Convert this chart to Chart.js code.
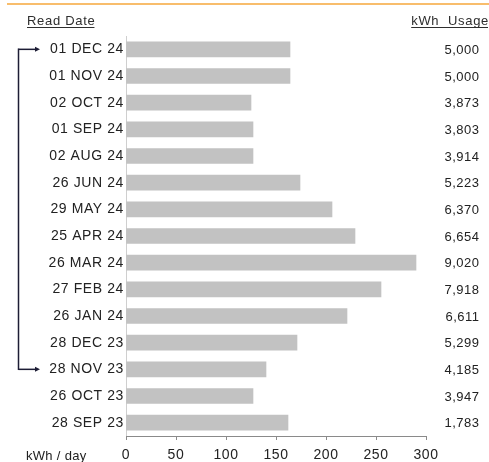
<!DOCTYPE html>
<html>
<head>
<meta charset="utf-8">
<script src="https://cdn.jsdelivr.net/npm/chart.js@4/dist/chart.umd.min.js"></script>
<style>
  html, body { margin: 0; padding: 0; background: #ffffff; }
  #wrap { width: 489px; height: 462px; }
</style>
</head>
<body>
<div id="wrap"><canvas id="c" width="489" height="462"></canvas></div>
<script>
const categories = ['01 DEC 24','01 NOV 24','02 OCT 24','01 SEP 24','02 AUG 24','26 JUN 24','29 MAY 24','25 APR 24','26 MAR 24','27 FEB 24','26 JAN 24','28 DEC 23','28 NOV 23','26 OCT 23','28 SEP 23'];
const kwhPerDay = [164,164,125,127,127,174,206,229,290,255,221,171,140,127,162];
const kwhUsage = [5000,5000,3873,3803,3914,5223,6370,6654,9020,7918,6611,5299,4185,3947,1783];
const xTicks = [0,50,100,150,200,250,300];
const arrowFrom = '28 NOV 23';
const arrowTo = '01 DEC 24';
const leftHeader = 'Read Date';
const rightHeader = 'kWh  Usage';
const xAxisLabel = 'kWh / day';

const FONT = "'Liberation Sans', Arial, sans-serif";

const decorPlugin = {
  id: 'decor',
  beforeDraw(chart) {
    chart.ctx.letterSpacing = '0.6px';
  },
  afterDraw(chart) {
    const ctx = chart.ctx;
    const yScale = chart.scales.y;
    ctx.save();
    ctx.letterSpacing = '0px';
    // top orange rule
    ctx.strokeStyle = '#f6a73b';
    ctx.lineWidth = 1.6;
    ctx.beginPath();
    ctx.moveTo(7, 4);
    ctx.lineTo(489, 4);
    ctx.stroke();

    // headers
    ctx.fillStyle = '#2e2e2e';
    ctx.font = '13px ' + FONT;
    ctx.textBaseline = 'alphabetic';
    ctx.letterSpacing = '0.7px';
    ctx.textAlign = 'left';
    ctx.fillText(leftHeader, 27, 25);
    let w = ctx.measureText(leftHeader).width;
    ctx.fillRect(27, 27, w - 1, 1);
    ctx.textAlign = 'right';
    ctx.fillText(rightHeader, 489, 25);
    w = ctx.measureText(rightHeader).width;
    ctx.fillRect(489 - w, 27, w - 1, 1);

    // values on the right
    ctx.letterSpacing = '0.5px';
    ctx.font = '13px ' + FONT;
    ctx.textAlign = 'right';
    ctx.textBaseline = 'middle';
    ctx.fillStyle = '#222222';
    categories.forEach((c, i) => {
      const y = yScale.getPixelForValue(i);
      ctx.fillText(kwhUsage[i].toLocaleString('en-US'), 479.5, y + 1);
    });

    // x axis label
    ctx.letterSpacing = '0.3px';
    ctx.textAlign = 'left';
    ctx.font = '13px ' + FONT;
    ctx.fillText(xAxisLabel, 26, 456);

    // arrow bracket
    const yTop = yScale.getPixelForValue(categories.indexOf(arrowTo));
    const yBot = yScale.getPixelForValue(categories.indexOf(arrowFrom));
    ctx.strokeStyle = '#1d1d35';
    ctx.fillStyle = '#1d1d35';
    ctx.lineWidth = 1.5;
    const xv = 18.5, xe = 40;
    [yTop, yBot].forEach(yy => {
      ctx.beginPath();
      ctx.moveTo(xv, yy);
      ctx.lineTo(xe - 4, yy);
      ctx.stroke();
      ctx.beginPath();
      ctx.moveTo(xe, yy);
      ctx.lineTo(xe - 5, yy - 2.5);
      ctx.lineTo(xe - 5, yy + 2.5);
      ctx.closePath();
      ctx.fill();
    });
    ctx.beginPath();
    ctx.moveTo(xv, yTop - 0.75);
    ctx.lineTo(xv, yBot + 0.75);
    ctx.stroke();
    ctx.restore();
  }
};

new Chart(document.getElementById('c'), {
  type: 'bar',
  data: {
    labels: categories,
    datasets: [{
      data: kwhPerDay,
      backgroundColor: '#c2c2c2',
      borderWidth: 0,
      barThickness: 15
    }]
  },
  options: {
    indexAxis: 'y',
    responsive: false,
    animation: false,
    devicePixelRatio: 1,
    layout: { padding: { top: 36, right: 63, left: 0, bottom: 0 } },
    plugins: { legend: { display: false }, tooltip: { enabled: false } },
    scales: {
      y: {
        position: 'left',
        grid: { display: false, drawTicks: false },
        border: { display: true, color: '#cfcfcf', width: 1 },
        ticks: {
          color: '#222222',
          font: { family: FONT, size: 14 },
          padding: 2,
          autoSkip: false
        },
        afterFit(scale) { scale.width = 126; }
      },
      x: {
        position: 'bottom',
        min: xTicks[0],
        max: xTicks[xTicks.length - 1],
        afterBuildTicks(scale) { scale.ticks = xTicks.map(v => ({ value: v })); },
        grid: { drawOnChartArea: false, drawTicks: true, tickLength: 4, color: '#8a8a8a' },
        border: { display: true, color: '#8a8a8a', width: 1 },
        ticks: {
          color: '#222222',
          font: { family: FONT, size: 14 },
          padding: 7,
          maxRotation: 0,
          autoSkip: false
        },
        afterFit(scale) { scale.height = 26; }
      }
    }
  },
  plugins: [decorPlugin]
});
</script>
</body>
</html>
